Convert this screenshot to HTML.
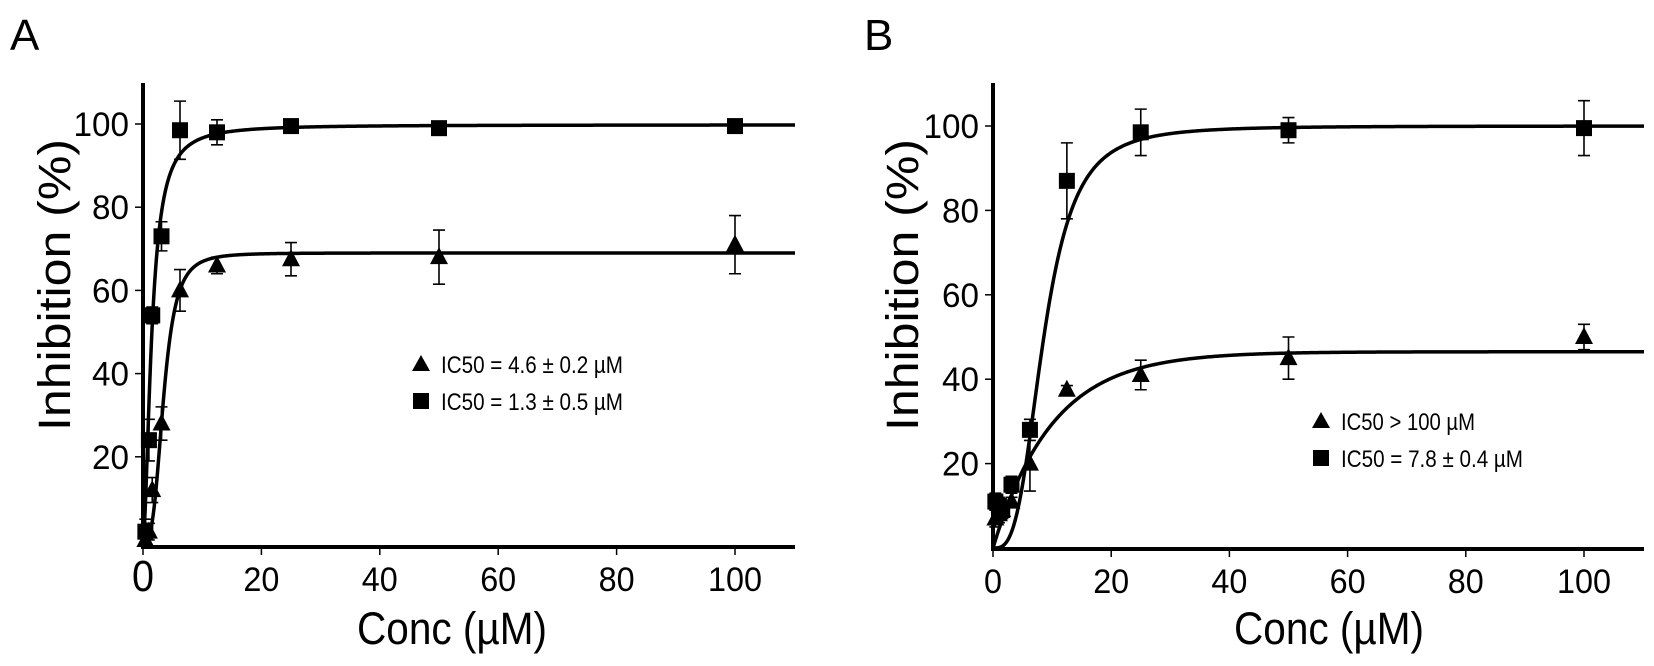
<!DOCTYPE html>
<html><head><meta charset="utf-8"><style>
html,body{margin:0;padding:0;background:#fff}
svg{display:block}
text{font-family:"Liberation Sans",Arial,sans-serif;fill:#000}
</style></head><body>
<svg id="fig" width="1654" height="666" viewBox="0 0 1654 666" xmlns="http://www.w3.org/2000/svg"></svg>
<script>
// ---- data ----
const xTicks = [0, 20, 40, 60, 80, 100];
const yTicks = [20, 40, 60, 80, 100];
// Panel A
const aSqX = [0.4, 1, 1.56, 3.125, 6.25, 12.5, 25, 50, 100];
const aSqY = [2, 24, 54, 73, 98.5, 98, 99.5, 99, 99.5];
const aSqE = [3, 5, 2, 3.5, 7, 3, 1, 1, 1];
const aTrX = [0.4, 1, 1.56, 3.125, 6.25, 12.5, 25, 50, 100];
const aTrY = [0, 2, 12, 28, 60, 66, 67.5, 68, 71];
const aTrE = [1, 2, 3, 4, 5, 2, 4, 6.5, 7];
const aSqFit = [99.8, 1.5, 1.8];   // top, ec50, hill
const aTrFit = [69, 3.5, 3.3];
// Panel B
const bSqX = [0.4, 1, 1.56, 3.125, 6.25, 12.5, 25, 50, 100];
const bSqY = [11, 10, 9, 15, 28, 87, 98.5, 99, 99.5];
const bSqE = [2, 2, 2, 2, 2.5, 9, 5.5, 3, 6.5];
const bTrX = [0.4, 1, 1.56, 3.125, 6.25, 12.5, 25, 50, 100];
const bTrY = [7, 8, 9, 11, 20, 37.5, 41, 45, 50];
const bTrE = [2, 2, 2, 1, 6.5, 1, 3.5, 5, 3];
const bSqFit = [100, 8.6, 3.2];
const bTrFit = [46.5, 0.1];        // plateau, rate (one-phase association)

const NS = "http://www.w3.org/2000/svg";
const svg = document.getElementById('fig');
function el(tag, attrs, parent) {
  const e = document.createElementNS(NS, tag);
  for (const k in attrs) e.setAttribute(k, attrs[k]);
  (parent || svg).appendChild(e);
  return e;
}
function hill(p) { return x => p[0] * Math.pow(x, p[2]) / (Math.pow(p[1], p[2]) + Math.pow(x, p[2])); }
function assoc(p) { return x => p[0] * (1 - Math.exp(-p[1] * x)); }

function panel(cfg) {
  const g = el('g', {});
  
  
  const sx = v => cfg.x0 + v * cfg.kx;
  const sy = v => cfg.y0 - v * cfg.ky;
  const ya = el('line', {x1: sx(0), y1: cfg.axTop, x2: sx(0), y2: cfg.axY + 2, stroke: '#000', 'stroke-width': 4}, g);
  
  
  const xa = el('line', {x1: sx(0) - 2, y1: cfg.axY, x2: cfg.axRight, y2: cfg.axY, stroke: '#000', 'stroke-width': 4}, g);
  
  
  xTicks.forEach(t => {
    const tk = el('line', {x1: sx(t), y1: cfg.axY, x2: sx(t), y2: cfg.axY + 8, stroke: '#000', 'stroke-width': 1.5}, g);
    
    
    const big = (t === 0 && cfg.bigZero);
    const s = String(t);
    const lb = el('text', {x: sx(t), y: cfg.axY + 44, 'text-anchor': 'middle', 'font-size': big ? 44 : 34, textLength: s.length * (big ? 22 : 18), lengthAdjust: 'spacingAndGlyphs'}, g);
    lb.textContent = s;
    
    
  });
  yTicks.forEach(t => {
    const tk = el('line', {x1: sx(0) - 8, y1: sy(t), x2: sx(0), y2: sy(t), stroke: '#000', 'stroke-width': 1.5}, g);
    
    
    const s = String(t);
    const lb = el('text', {x: sx(0) - 14, y: sy(t) + 12, 'text-anchor': 'end', 'font-size': 34, textLength: s.length * 18.5, lengthAdjust: 'spacingAndGlyphs'}, g);
    lb.textContent = s;
    
    
  });
  const yt = el('text', {x: 0, y: 0, 'text-anchor': 'middle', 'font-size': 45, textLength: 292, lengthAdjust: 'spacingAndGlyphs', transform: `translate(${cfg.ytX},285) rotate(-90)`}, g);
  yt.textContent = 'Inhibition (%)';
  
  
  const xt = el('text', {x: cfg.xtX, y: 644, 'text-anchor': 'middle', 'font-size': 45, textLength: 190, lengthAdjust: 'spacingAndGlyphs'}, g);
  xt.textContent = 'Conc (µM)';
  
  
  const pl = el('text', {x: cfg.labX, y: 50, 'font-size': 44}, g);
  pl.textContent = cfg.label;
  
  
  cfg.series.forEach(s => {
    let d = '';
    const xmax = (cfg.axRight - cfg.x0) / cfg.kx;
    for (let i = 0; i <= 600; i++) {
      const x = Math.pow(i / 600, 2) * xmax;
      d += (i ? 'L' : 'M') + sx(x).toFixed(2) + ',' + sy(s.fn(x)).toFixed(2);
    }
    const c = el('path', {d: d, fill: 'none', stroke: '#000', 'stroke-width': 3.5}, g);
    
    
    s.xs.forEach((xv, i) => {
      const px = sx(xv), py = sy(s.ys[i]);
      const top = sy(s.ys[i] + s.es[i]), bot = sy(s.ys[i] - s.es[i]);
      const eb = el('path', {d: `M${px},${top}V${bot}M${px - 6},${top}H${px + 6}M${px - 6},${bot}H${px + 6}`, stroke: '#000', 'stroke-width': 1.6, fill: 'none'}, g);
      
      
      let m;
      if (s.shape === 'sq') m = el('rect', {x: px - 8, y: py - 8, width: 16, height: 16, fill: '#000'}, g);
      else m = el('polygon', {points: `${px},${py - 10} ${px - 9},${py + 7} ${px + 9},${py + 7}`, fill: '#000'}, g);
      
      
    });
  });
  cfg.legend.forEach((L, i) => {
    const ly = cfg.legY + i * 37;
    let m;
    if (L.shape === 'sq') m = el('rect', {x: cfg.legX - 8, y: ly - 8, width: 16, height: 16, fill: '#000'}, g);
    else m = el('polygon', {points: `${cfg.legX},${ly - 9} ${cfg.legX - 9},${ly + 7} ${cfg.legX + 9},${ly + 7}`, fill: '#000'}, g);
    
    
    const t = el('text', {x: cfg.legX + 20, y: ly + 9, 'font-size': 24, textLength: L.len, lengthAdjust: 'spacingAndGlyphs'}, g);
    t.textContent = L.text;
    
    
  });
}

panel({name: 'panel-a', label: 'A', labX: 10, x0: 143, kx: 5.92, y0: 540, ky: 4.16, axY: 547, axTop: 83, axRight: 795,
  ytX: 70, xtX: 452, bigZero: true, legX: 421, legY: 364,
  series: [
    {name: 'square', shape: 'sq', xs: aSqX, ys: aSqY, es: aSqE, fn: hill(aSqFit)},
    {name: 'triangle', shape: 'tr', xs: aTrX, ys: aTrY, es: aTrE, fn: hill(aTrFit)}
  ],
  legend: [{shape: 'tr', text: 'IC50 = 4.6 ± 0.2 µM', len: 182}, {shape: 'sq', text: 'IC50 = 1.3 ± 0.5 µM', len: 182}]});

panel({name: 'panel-b', label: 'B', labX: 864, x0: 993, kx: 5.91, y0: 548, ky: 4.22, axY: 549, axTop: 83, axRight: 1644,
  ytX: 918, xtX: 1329, bigZero: false, legX: 1321, legY: 421,
  series: [
    {name: 'square', shape: 'sq', xs: bSqX, ys: bSqY, es: bSqE, fn: hill(bSqFit)},
    {name: 'triangle', shape: 'tr', xs: bTrX, ys: bTrY, es: bTrE, fn: assoc(bTrFit)}
  ],
  legend: [{shape: 'tr', text: 'IC50 > 100 µM', len: 134}, {shape: 'sq', text: 'IC50 = 7.8 ± 0.4 µM', len: 182}]});
</script>
</body></html>
